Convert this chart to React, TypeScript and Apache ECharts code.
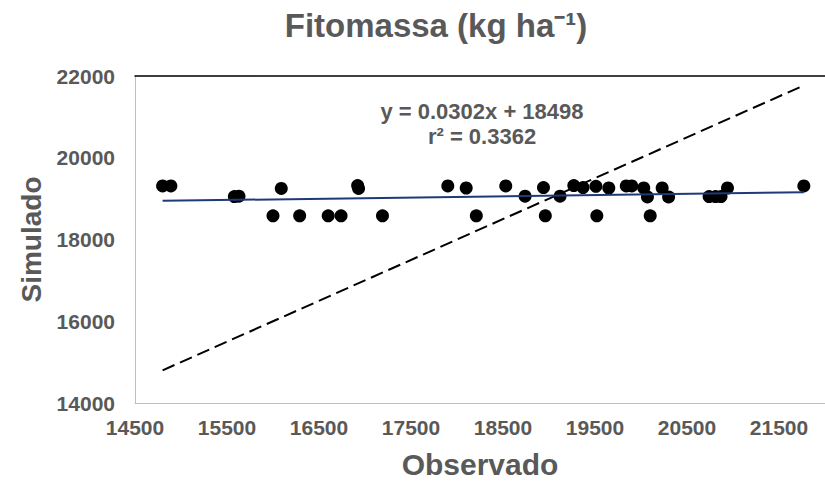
import React, { useEffect, useRef } from "react";
import * as echarts from "echarts";

// Observed (x) and simulated (y) phytomass, kg ha-1
const observado = [
  14800, 14890, 15580, 15630, 16090, 16000, 16290, 16600, 16740, 16920,
  16930, 17190, 17900, 18100, 18210, 18530, 18740, 18940, 18960, 19120,
  19270, 19370, 19510, 19650, 19520, 19840, 19900, 20030, 20070, 20100,
  20230, 20300, 20740, 20810, 20870, 20940, 21770,
];
const simulado = [
  19310, 19310, 19050, 19060, 19250, 18580, 18580, 18580, 18580, 19320,
  19250, 18580, 19310, 19260, 18580, 19310, 19060, 19270, 18580, 19060,
  19320, 19270, 19300, 19260, 18580, 19310, 19310, 19260, 19040, 18580,
  19260, 19040, 19050, 19050, 19050, 19260, 19310,
];

// Linear trend line (y = 0.0302x + 18498) end points
const trendX = [14800, 21770];
const trendY = [18945, 19155];

// 1:1 line end points
const oneToOneX = [14800, 21770];
const oneToOneY = [14800, 21770];

const titleText = "Fitomassa (kg ha\u207B\u00B9)";
const equationLines = ["y = 0.0302x + 18498", "r\u00B2 = 0.3362"];
const xAxisTitle = "Observado";
const yAxisTitle = "Simulado";

const GRAY = "#595959";
const FONT = "'Liberation Sans', Arial, sans-serif";

export default function App() {
  const ref = useRef<HTMLDivElement>(null);

  useEffect(() => {
    if (!ref.current) return;
    const chart = echarts.init(ref.current, undefined, { renderer: "svg" });

    const scatterData = observado.map((x, i) => [x, simulado[i]]);
    const trendData = trendX.map((x, i) => [x, trendY[i]]);
    const oneData = oneToOneX.map((x, i) => [x, oneToOneY[i]]);

    chart.setOption({
      animation: false,
      backgroundColor: "#ffffff",
      title: {
        text: titleText,
        left: 431,
        top: 4,
        textAlign: "center",
        textStyle: { fontFamily: FONT, fontSize: 33, fontWeight: "bold", color: GRAY },
      },
      grid: { left: 135, top: 76, right: -8, bottom: 78 },
      xAxis: [
        {
          type: "value",
          min: 14500,
          max: 22000,
          interval: 1000,
          name: xAxisTitle,
          nameLocation: "middle",
          nameGap: 46,
          nameTextStyle: { fontFamily: FONT, fontSize: 30, fontWeight: "bold", color: GRAY },
          axisLine: { show: true, lineStyle: { color: "#bfbfbf", width: 1 } },
          axisTick: { show: false },
          splitLine: { show: false },
          axisLabel: {
            showMaxLabel: false,
            margin: 14,
            formatter: (v: number) => String(v),
            fontFamily: FONT,
            fontSize: 21,
            fontWeight: "bold",
            color: GRAY,
          },
        },
        {
          type: "value",
          position: "top",
          min: 14500,
          max: 22000,
          interval: 1000,
          axisLine: { show: true, lineStyle: { color: "#000000", width: 1.5 } },
          axisTick: { show: false },
          axisLabel: { show: false },
          splitLine: { show: false },
        },
      ],
      yAxis: {
        type: "value",
        min: 14000,
        max: 22000,
        interval: 2000,
        name: yAxisTitle,
        nameLocation: "middle",
        nameGap: 90,
        nameTextStyle: { fontFamily: FONT, fontSize: 28, fontWeight: "bold", color: GRAY },
        axisLine: { show: true, lineStyle: { color: "#bfbfbf", width: 1 } },
        axisTick: { show: false },
        splitLine: { show: false },
        axisLabel: {
          margin: 20,
          formatter: (v: number) => String(v),
          fontFamily: FONT,
          fontSize: 21,
          fontWeight: "bold",
          color: GRAY,
        },
      },
      graphic: [
        {
          type: "text",
          left: 482 - 130,
          top: 99,
          style: {
            text: equationLines.join("\n"),
            x: 130,
            width: 260,
            textAlign: "center",
            fontFamily: FONT,
            fontSize: 22,
            fontWeight: "bold",
            lineHeight: 25,
            fill: GRAY,
          },
        },
      ],
      series: [
        {
          type: "scatter",
          data: scatterData,
          symbol: "circle",
          symbolSize: 13,
          itemStyle: { color: "#000000", opacity: 1 },
          z: 2,
        },
        {
          type: "line",
          data: oneData,
          symbol: "none",
          lineStyle: { color: "#000000", width: 2, type: [13, 6] },
          z: 3,
        },
        {
          type: "line",
          data: trendData,
          symbol: "none",
          lineStyle: { color: "#1f3a78", width: 2 },
          z: 4,
        },
      ],
    });

    return () => chart.dispose();
  }, []);

  return (
    <div
      ref={ref}
      style={{ position: "fixed", left: 0, top: 0, width: 825, height: 484 }}
    />
  );
}
